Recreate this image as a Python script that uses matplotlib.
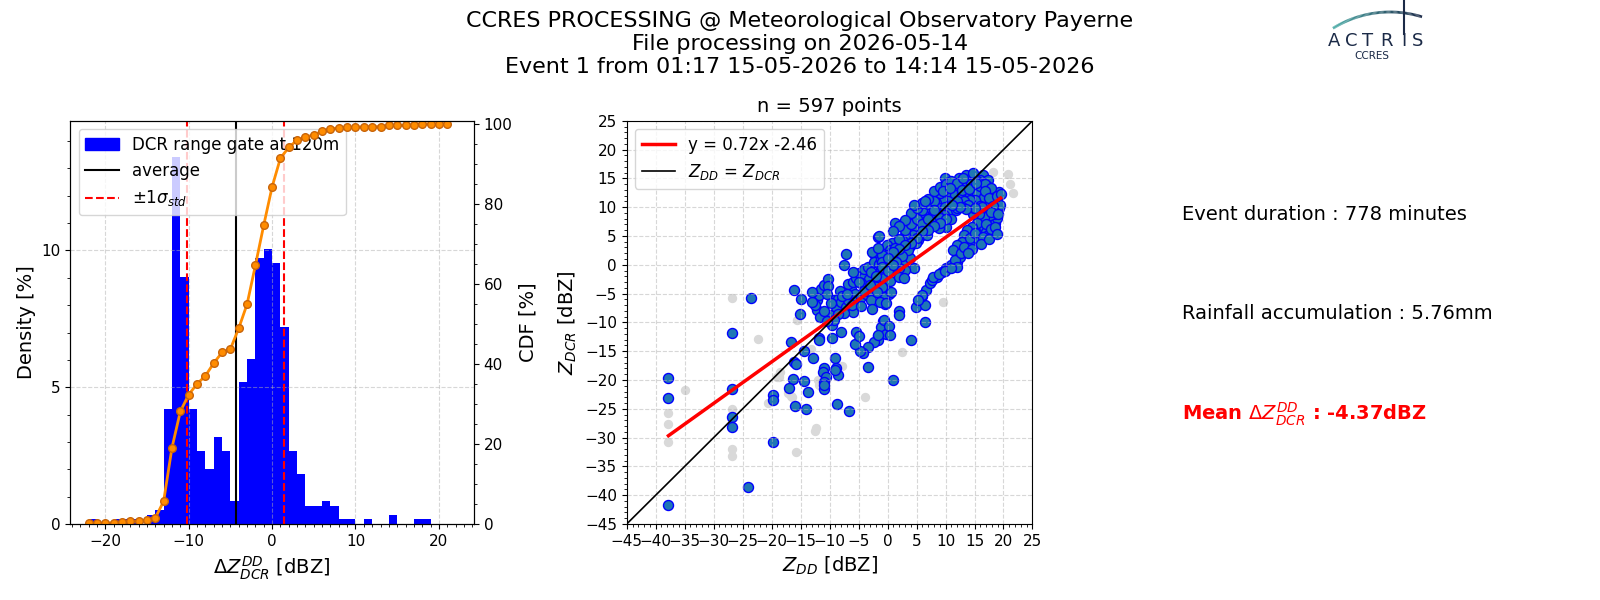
import matplotlib
matplotlib.use('Agg')
import matplotlib.pyplot as plt
import numpy as np
from matplotlib.collections import LineCollection
from matplotlib.patches import Patch
from matplotlib.ticker import MultipleLocator

# ---------------- data ----------------
# histogram of delta Z (1 dBZ bins, left edges -22 .. 21), counts per bin
bin_left = np.arange(-22, 22)
bin_counts = [1, 0, 0, 1, 1, 1, 0, 2, 3, 25,
              80, 54, 25, 16, 12, 19, 16, 5, 31, 36,
              58, 60, 57, 43, 16, 11, 4, 4, 5, 4,
              1, 1, 0, 1, 0, 0, 2, 0, 0, 1,
              1, 0, 0, 0]
mean_dz = -4.37
std_dz = 5.8
n_points = 597

# scatter Z_DD vs Z_DCR (kept points)
zdd = [-37.8, -37.8, -37.8, -26.9, -26.9, -26.9, -26.9, -23.6, -24.0, -19.7, -19.7, -19.7,
       -16.1, -14.9, -15.1, -16.7, -14.5, -12.9, -16.1, -15.8, -16.4, -17.0, -14.4, -13.7,
       -14.0, -15.9, -11.8, -11.8, -10.9, -11.1, -10.7, -10.9, -11.0, -10.9, -9.0, -8.9,
       -8.6, -9.1, -8.7, -6.7,
       -7.2, -7.6, -12.2, -11.9, -11.5, -10.9, -10.3, -10.2, -12.1, -11.6, -10.0, -9.5,
       -9.6, -8.0, -8.9, -9.2, -8.6, -8.0, -7.2, -6.9, -6.6, -6.3, -6.9, -6.0, -5.4, -4.9,
       -4.1, -5.7, -5.3, -5.9, -4.6, -3.7, -3.7, -3.1, -2.9, -2.6, -4.0, -3.4, -2.3, -1.7,
       -2.3, -1.4, -1.1, -0.6, -0.3, -0.4, -0.8, -1.1, -1.7, -1.7, -0.2, -2.3, -3.4, -4.3,
       -4.8, -5.4, -5.6, -4.9, -3.4, -2.6, -1.1, -0.2, 0.0, 0.3, 0.3, -0.6,
       -7.5, -6.2, -4.5, -3.2, -2.0, -1.5, -2.8, -4.5, -8.2, -7.8, -9.8, -10.5,
       1.0, 4.1,
       9.95, 12.4, 13.6, 14.8, 16.5, 16.0, 17.4, 17.1, 17.7, 19.2, 18.6, 13.2, 14.4, 12.3,
       11.3, 10.2, 11.7, 12.8, 14.0, 15.4, 16.6, 16.0, 15.1, 14.3, 13.1, 12.0, 10.5, 9.4,
       8.4, 8.4, 9.1, 9.95, 10.8, 11.8, 9.7, 8.5, 7.7, 7.1, 5.6, 5.1, 6.2, 7.4, 8.2, 9.1,
       10.1, 8.8, 7.4, 6.2, 4.8, 4.5, 3.9, 5.1, 5.9, 6.8, 5.3, 4.4, 3.6, 3.0, 2.8, 3.9,
       4.9, 2.5, 1.6, 0.7, -0.1, 0.5, 1.3, 2.2, 3.3, 1.9, 1.0, -0.1, -1.0, -1.6, -1.4, 1.2,
       -1.0, 0.5, 1.6, 2.8, 3.9, 4.5, 3.0, 1.9, 0.7, -0.4, -1.3, -1.8, -0.7, 0.5, 1.9, 2.8,
       0.6, -1.0, -1.8, -1.3, -0.2, 1.9, 1.9, -0.7, 0.2, 0.5, -1.6, 6.5, 4.9, 6.5, 5.9,
       6.7, 7.4, 7.7, 8.5, 9.4, 10.0, 10.8, 11.5, 12.0, 12.5, 13.0, 13.4, 14.0, 13.7, 14.6,
       15.1, 15.4, 16.0, 16.6, 16.9, 17.4, 18.3, 18.6, 18.8, 18.6, 19.2, 17.7, 16.6, 15.7,
       14.8, 15.4, 14.6, 13.7, 13.2, 12.8, 12.0, 11.3,
       2.0, 3.0, 4.0, 5.0, 6.0, 7.0, 8.0, 9.0, 6.0, 7.0, 8.0, 3.5, 2.5, 1.5,
       15.5, 16.8, 17.9, 18.9, 19.4, 18.2, 17.0, 15.9, 14.9, 13.9, 12.9, 11.9, 10.9,
       4.0, 5.0, 6.0, 7.0, 8.0, 9.0, 10.0, 11.0, 12.0, 13.0, 3.0, 2.0, 1.0, 4.5,
       6.5, 9.5, 10.8, 12.8, 14.0, 15.3, 16.8, 17.5, 18.2, 18.8, 19.5, 17.9, 16.3, 15.0,
       13.5, 12.5, 11.2, 10.0, 9.0, 8.0, 7.0, 6.0, 5.0, 4.0, 3.0, 2.0, 1.0, 0.0,
       7.8, 8.8, 9.9, 10.9, 11.7, 12.6, 13.2, 14.2, 15.0, 15.8, 16.5, 17.0, 17.8, 18.5,
       19.0, 14.5, 13.8, 12.0, 11.0, 16.2, 17.5, 18.8, 6.0, 5.3,
       -6.0, -5.0, -4.0, -3.0, -2.0, -1.0, 0.0, 1.0, -7.0, -8.5, -9.3, -10.5, -11.0,
       -12.5, -13.0, -13.0]
zdcr = [-19.7, -23.2, -41.7, -11.9, -21.5, -26.5, -28.2, -5.7, -38.5, -22.6, -23.5, -30.8,
        -4.3, -6.0, -8.5, -13.4, -14.9, -16.2, -16.9, -17.3, -19.8, -21.4, -20.2, -22.1,
        -25.1, -24.5, -12.7, -13.1, -18.0, -18.6, -19.5, -20.3, -21.5, -20.9, -16.2, -18.0,
        -19.1, -18.3, -24.2, -25.4,
        1.9, -0.1, -6.2, -5.2, -4.2, -3.5, -2.4, -3.7, -7.9, -9.1, -8.7, -10.4,
        -12.7, -11.7, -7.3, -6.2, -5.9, -6.5, -7.3, -6.2, -5.0, -4.2, -3.3, -3.0, -2.3, -1.4,
        -2.1, -5.0, -6.2, -8.2, -5.6, -5.0, -3.9, -4.7, -6.2, -7.6, -0.7, -0.4, 1.9, 4.8,
        0.5, 0.2, -0.7, -1.8, -3.3, -6.8, -9.7, -10.8, -12.3, -13.1, -12.0, -13.4, -14.3, -15.4,
        -14.9, -11.7, -13.7, -12.3, -17.7, 2.2, 1.0, 0.5, 3.4, 1.3, -5.0, -5.6,
        -8.3, -7.0, -7.2, -2.5, -3.0, -1.5, -1.2, -3.2, -4.5, -5.5, -6.7, -5.0,
        -20.0, -13.1,
        15.0, 15.0, 15.6, 16.0, 15.6, 14.8, 14.8, 13.7, 12.7, 12.7, 11.5, 13.8, 14.0, 13.3,
        13.6, 12.4, 12.1, 12.4, 12.7, 12.4, 11.8, 13.6, 11.2, 11.2, 11.0, 11.0, 11.0, 11.2,
        12.1, 10.7, 9.8, 10.1, 9.5, 9.5, 8.6, 8.9, 9.5, 9.5, 10.1, 8.9, 8.6, 8.1, 7.5, 8.1,
        6.6, 6.3, 6.6, 7.5, 8.1, 7.2, 6.3, 6.0, 5.2, 5.2, 4.3, 5.2, 4.3, 5.2, 3.4, 3.2,
        3.7, 4.3, 3.7, 3.7, 3.4, 2.6, 2.9, 2.3, 2.0, 1.4, 1.4, 1.7, 1.7, 2.9, 5.0, 7.3,
        0.5, 0.5, 0.3, 0.8, 1.1, -0.6, -0.9, -0.6, -0.3, -0.9, -1.5, -2.1, -2.3, -2.9, -2.1, -2.3,
        -4.7, -3.8, -4.7, -6.4, -6.7, -8.1, -8.7, -9.6, -10.7, -12.2, -12.2, -9.9, -7.3, -7.0, -5.5,
        -4.4, -3.2, -2.6, -2.1, -1.2, -0.6, -0.3, 0.0, 0.5, 1.4, 2.3, 3.2, 3.7, 4.3, 4.0,
        4.9, 5.7, 6.0, 6.6, 5.7, 5.2, 5.7, 7.2, 8.1, 8.9, 9.8, 8.6, 8.3, 8.9,
        8.9, 7.2, 6.6, 6.0, 5.2, 4.0, 3.4, 2.6,
        4.5, 6.0, 7.0, 8.0, 9.5, 10.5, 11.0, 12.5, 7.0, 8.0, 9.5, 2.5, 1.5, 0.5,
        14.5, 14.0, 13.3, 11.0, 10.3, 9.6, 10.0, 10.2, 9.9, 10.4, 10.0, 9.9, 8.0,
        9.0, 9.8, 10.8, 11.5, 12.8, 13.5, 14.0, 14.5, 14.2, 15.0, 7.8, 6.8, 5.8, 10.3,
        11.0, 12.8, 13.3, 13.0, 13.2, 14.2, 12.8, 11.6, 10.2, 12.0, 12.3, 9.2, 10.0, 9.8,
        9.6, 10.0, 10.4, 8.0, 7.2, 6.8, 6.0, 5.8, 4.6, 3.8, 3.4, 2.8, 2.2, 1.2,
        -2.2, -1.6, -1.0, 0.0, 0.8, 2.0, 3.0, 4.6, 5.5, 4.2, 4.8, 7.0, 6.2, 6.5,
        8.8, 2.8, 2.0, -0.3, -0.5, 3.6, 4.4, 5.4, -5.3, -6.2,
        -1.2, -3.0, -4.5, -3.5, -2.0, -0.3, -1.0, 0.0, -5.0, -8.5, -9.5, -9.8, -8.0,
        -7.0, -6.5, -4.8]

# rejected points (grey)
zdd_rej = [-26.9, -22.3, -34.9, -37.8, -37.8, -37.8, -26.9, -26.9, -26.9, -20.7, -15.8, -12.5,
           -19.1, -18.5, -17.1, -15.7, -13.2, -7.9, -3.9, 2.5, 9.5, 18.2, 20.7, 21.2, 21.6,
           -16.5, -11.9, -12.0, -18.7, -16.7, -12.3]
zdcr_rej = [-5.7, -12.8, -21.7, -25.8, -27.6, -30.7, -25.1, -31.9, -33.2, -24.0, -32.5, -28.8,
            -19.4, -18.7, -22.3, -9.6, -14.6, -17.5, -22.9, -15.2, -6.5, 16.1, 15.7, 14.0, 12.4,
            -23.0, -20.9, -20.0, -19.5, -22.7, -28.4]

fit_slope = 0.72
fit_intercept = -2.46

event_duration = 778
rain_acc = 5.76

# ---------------- figure ----------------
fig = plt.figure(figsize=(16, 6), dpi=100)
fig.suptitle('CCRES PROCESSING @ Meteorological Observatory Payerne\n'
             'File processing on 2026-05-14\n'
             'Event 1 from 01:17 15-05-2026 to 14:14 15-05-2026',
             fontsize=16, y=0.982, linespacing=1.18)

# histogram panel
ax1 = fig.add_axes([0.0439, 0.1267, 0.2523, 0.672])
density = np.array(bin_counts) / np.sum(bin_counts) * 100
ax1.bar(bin_left, density, width=1, align='edge', color='blue')
l_mean = ax1.axvline(mean_dz, color='black', lw=1.5)
l_std = ax1.axvline(mean_dz - std_dz, color='red', ls='--', lw=1.5)
ax1.axvline(mean_dz + std_dz, color='red', ls='--', lw=1.5)
ax1.set_xlim(-24.2, 24.2)
ax1.set_ylim(0, density.max() * 1.1)
ax1.xaxis.set_minor_locator(MultipleLocator(1))
ax1.yaxis.set_minor_locator(MultipleLocator(1))
ax1.set_yticks([0, 5, 10])
ax1.tick_params(labelsize=11)
ax1.grid(True, linestyle='--', alpha=0.5)
ax1.set_xlabel(r'$\Delta Z^{DD}_{DCR}$ [dBZ]', fontsize=14)
ax1.set_ylabel('Density [%]', fontsize=14)
ax1.legend([Patch(color='blue'), l_mean, l_std],
           ['DCR range gate at 120m', 'average', r'$\pm1\sigma_{std}$'],
           loc='upper left', fontsize=12)

ax1b = ax1.twinx()
cdf = np.cumsum(density)
ax1b.plot(bin_left, cdf, color='darkorange', lw=2, marker='o', ms=5.5,
          mfc='darkorange', mec='#c8640a')
ax1b.set_ylim(0, 100.8)
ax1b.set_yticks([0, 20, 40, 60, 80, 100])
ax1b.yaxis.set_minor_locator(MultipleLocator(5))
ax1b.tick_params(labelsize=11)
ax1b.set_ylabel('CDF [%]', fontsize=14)

# scatter panel
ax2 = fig.add_axes([0.3917, 0.1267, 0.2536, 0.672])
ax2.scatter(zdd_rej, zdcr_rej, s=33, color='#d9d9d9', zorder=1)
ax2.scatter(zdd, zdcr, s=52, facecolor='#1f77b4', edgecolor='blue', lw=1, zorder=1.2)
xfit = np.array([min(zdd), max(zdd)])
ax2.plot(xfit, fit_slope * xfit + fit_intercept, color='red', lw=2.5,
         label=f'y = {fit_slope:.2f}x {fit_intercept:.2f}')
ax2.plot([-45, 25], [-45, 25], color='black', lw=1.2, label=r'$Z_{DD}$ = $Z_{DCR}$')
ax2.set_xlim(-45, 25)
ax2.set_ylim(-45, 25)
ax2.set_xticks(np.arange(-45, 26, 5))
ax2.set_yticks(np.arange(-45, 26, 5))
ax2.xaxis.set_minor_locator(MultipleLocator(1))
ax2.yaxis.set_minor_locator(MultipleLocator(1))
ax2.tick_params(labelsize=11)
ax2.grid(True, linestyle='--', alpha=0.5)
ax2.set_xlabel(r'$Z_{DD}$ [dBZ]', fontsize=14)
ax2.set_ylabel(r'$Z_{DCR}$ [dBZ]', fontsize=14)
ax2.set_title(f'n = {n_points} points', fontsize=14)
ax2.legend(loc='upper left', fontsize=12)

# text panel
fig.text(0.7388, 0.643, f'Event duration : {event_duration} minutes', fontsize=14, va='center')
fig.text(0.7388, 0.477, f'Rainfall accumulation : {rain_acc:.2f}mm', fontsize=14, va='center')
fig.text(0.7388, 0.310, r'Mean $\Delta Z^{DD}_{DCR}$ : ' + f'{mean_dz:.2f}dBZ',
         fontsize=14, va='center', color='red', fontweight='bold')

# logo
axl = fig.add_axes([1290 / 1600, 1 - 70 / 600, 140 / 1600, 70 / 600])
axl.set_xlim(1290, 1430)
axl.set_ylim(70, 0)
axl.axis('off')
t = np.linspace(np.arccos(32 / 108), np.arccos(-57 / 108), 80)
pts = np.column_stack([1390 + 108 * np.cos(t[::-1]), 120 - 108 * np.sin(t[::-1])])
segs = np.stack([pts[:-1], pts[1:]], axis=1)
cols = np.linspace(0, 1, len(segs))
c0 = np.array([0.30, 0.68, 0.66])
c1 = np.array([0.10, 0.16, 0.28])
lc = LineCollection(segs, colors=[c0 + (c1 - c0) * c for c in cols], lw=2)
axl.add_collection(lc)
axl.plot([1404, 1404], [0, 34], color='#1b2a47', lw=1.5)
for letter, xp in zip('ACTRIS', [1334, 1351, 1368, 1386, 1404, 1418]):
    axl.text(xp, 41, letter, fontsize=13, color='#1b2a47', ha='center', va='center')
axl.text(1372, 56, 'CCRES', fontsize=7.5, color='#1b2a47', ha='center', va='center')

fig.savefig('out.png', dpi=100)
